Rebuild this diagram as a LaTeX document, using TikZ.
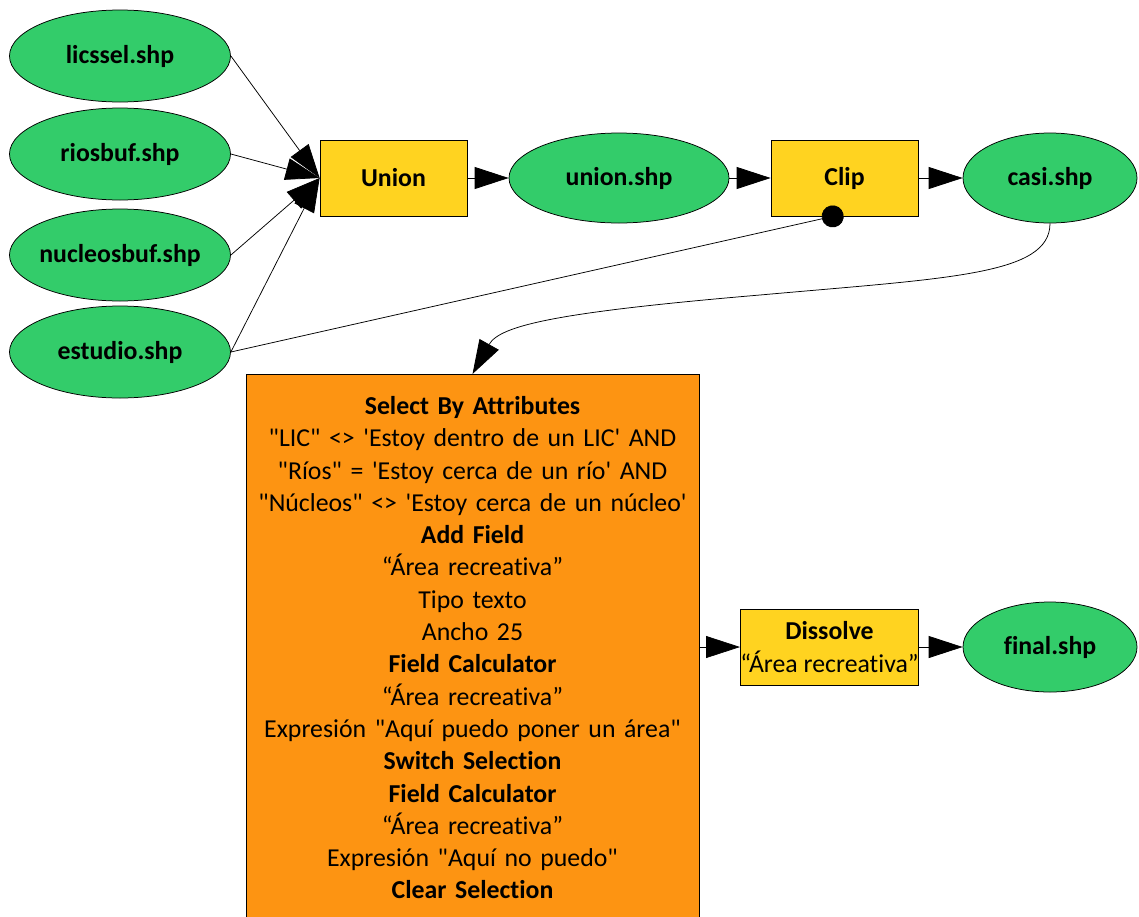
\documentclass[tikz,border=0pt]{standalone}
\usepackage{fontspec}
\setmainfont{Carlito}[Ligatures={TeXOff,CommonOff}]
\usetikzlibrary{calc,arrows.meta,shapes.geometric}
\definecolor{shpgreen}{RGB}{51,204,106}
\definecolor{toolyellow}{RGB}{255,211,32}
\definecolor{seqorange}{RGB}{253,148,18}
\newcommand\diafont{\fontsize{25.8}{32.3}\selectfont}

\begin{document}
\begin{tikzpicture}[x=1pt,y=-1pt,line width=0.75pt,
  shp/.style={ellipse,draw,fill=shpgreen,minimum width=221,minimum height=92,inner sep=-10pt,font=\diafont\bfseries},
  tool/.style={rectangle,draw,fill=toolyellow,minimum width=147,minimum height=76,inner sep=0pt,font=\diafont\bfseries},
  link/.style={-{Triangle[length=34pt,width=22pt]}}]
 \useasboundingbox (0,0) rectangle (1139,916);
 % inputs
 \node[shp] (licssel) at (120,56) {licssel.shp};
 \node[shp] (riosbuf) at (120,154) {riosbuf.shp};
 \node[shp] (nucleosbuf) at (120,255) {nucleosbuf.shp};
 \node[shp] (estudio) at (120,352) {estudio.shp};
 % top row
 \node[tool] (union) at (393.5,178) {Union};
 \node[shp,minimum width=220,minimum height=90] (unionshp) at (619,178) {union.shp};
 \node[tool] (clip) at (844.5,178) {Clip};
 \node[shp,minimum width=174,minimum height=90] (casi) at (1050,178) {casi.shp};
 % selection steps
 \node[draw,fill=seqorange,anchor=north,text width=453pt,inner xsep=0pt,inner ysep=22pt,align=center,font=\diafont] (sel) at (472.5,374) {%
  \textbf{Select By Attributes}\\
  "LIC" <> 'Estoy dentro de un LIC' AND\\
  "Ríos" = 'Estoy cerca de un río' AND\\
  "Núcleos" <> 'Estoy cerca de un núcleo'\\
  \textbf{Add Field}\\
  “Área recreativa”\\
  Tipo texto\\
  Ancho 25\\
  \textbf{Field Calculator}\\
  “Área recreativa”\\
  Expresión "Aquí puedo poner un área"\\
  \textbf{Switch Selection}\\
  \textbf{Field Calculator}\\
  “Área recreativa”\\
  Expresión "Aquí no puedo"\\
  \textbf{Clear Selection}};
 \node[tool,minimum width=177,font=\diafont,align=center] (dissolve) at (829.5,647) {\textbf{Dissolve}\\“Área recreativa”};
 \node[shp,minimum width=174,minimum height=90] (final) at (1050,647) {final.shp};
 % connectors
 \foreach \src in {licssel,riosbuf,nucleosbuf,estudio} \draw[link] (\src.east) -- (union.west);
 \draw[link] (union) -- (unionshp); \draw[link] (unionshp) -- (clip); \draw[link] (clip) -- (casi);
 \coordinate (clipin) at ($(clip.south west)!0.42!(clip.south east)$);
 \draw[-{Circle[length=22pt]},shorten >=-11pt] (estudio.east) -- (clipin);
 \draw[link] (casi.south) .. controls (1050,275) and (950,278) .. (760,295) .. controls (560,312) and (500,325) .. (sel.north);
 \draw[link] (sel.east |- dissolve.west) -- (dissolve.west);
 \draw[link] (dissolve) -- (final);
\end{tikzpicture}
\end{document}
